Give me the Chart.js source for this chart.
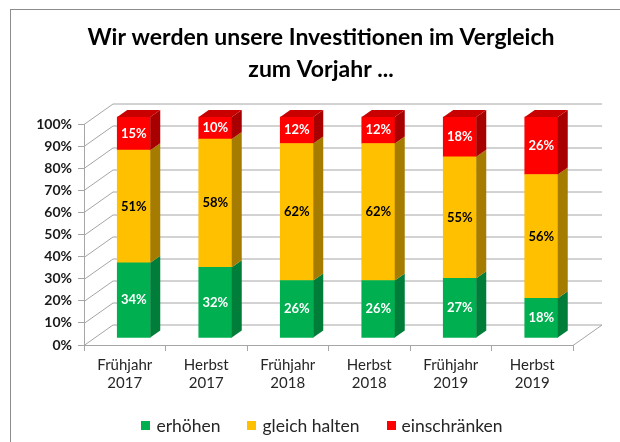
<!DOCTYPE html>
<html>
<head>
<meta charset="utf-8">
<script src="https://cdn.jsdelivr.net/npm/chart.js@4"></script>
<style>
  body { margin: 0; background: #fff; }
  canvas { display: block; }
</style>
</head>
<body>
<canvas id="invChart" width="620" height="442"></canvas>
<script>
const labels = [
    ['Frühjahr', '2017'], ['Herbst', '2017'],
    ['Frühjahr', '2018'], ['Herbst', '2018'],
    ['Frühjahr', '2019'], ['Herbst', '2019']
];
const erhoehen = [34, 32, 26, 26, 27, 18];
const gleichHalten = [51, 58, 62, 62, 55, 56];
const einschraenken = [15, 10, 12, 12, 18, 26];
const yTicks = [0, 10, 20, 30, 40, 50, 60, 70, 80, 90, 100];

const FONT = 'Lato, "Open Sans", sans-serif';
const GRID = '#a6a6a6';
const WALL = { dx: 29, dy: -20.5 };   // depth of the back wall
const BAR = { dx: 9, dy: -7 };        // bars sit a third of the way in
const SIDE = { dx: 10, dy: -7 };      // depth of each bar

// colours: front, side, top, label
const look = [
    { front: '#00b050', side: '#007d38', top: '#009a46', text: '#ffffff' },
    { front: '#ffc000', side: '#a67c00', top: '#d9a300', text: '#000000' },
    { front: '#ff0000', side: '#a80000', top: '#c80000', text: '#ffffff' }
];

const fake3d = {
    id: 'fake3d',
    beforeDraw(chart) {
        const ctx = chart.ctx;
        ctx.save();
        ctx.fillStyle = '#fff';
        ctx.fillRect(0, 0, chart.width, chart.height);
        ctx.strokeStyle = '#8c8c8c';
        ctx.lineWidth = 1;
        ctx.strokeRect(10.5, 9.5, 700, 600);
        ctx.restore();
    },
    beforeDatasetsDraw(chart) {
        const ctx = chart.ctx;
        const a = chart.chartArea;
        const y = chart.scales.y;
        ctx.save();
        ctx.strokeStyle = GRID;
        ctx.lineWidth = 1;
        ctx.beginPath();
        yTicks.forEach(v => {
            const py = Math.round(y.getPixelForValue(v)) + 0.5;
            ctx.moveTo(a.left, py);
            ctx.lineTo(a.left + WALL.dx, py + WALL.dy);
            ctx.lineTo(a.right + WALL.dx, py + WALL.dy);
        });
        // right edge of the floor
        const py0 = Math.round(y.getPixelForValue(0)) + 0.5;
        ctx.moveTo(a.right, py0);
        ctx.lineTo(a.right + WALL.dx, py0 + WALL.dy);
        ctx.stroke();
        ctx.restore();

        ctx.save();
        ctx.translate(BAR.dx, BAR.dy);
    },
    afterDatasetsDraw(chart) {
        const ctx = chart.ctx;
        const n = chart.data.datasets.length;
        chart.data.datasets.forEach((ds, di) => {
            const meta = chart.getDatasetMeta(di);
            meta.data.forEach((bar, i) => {
                const p = bar.getProps(['x', 'y', 'base', 'width'], true);
                const l = p.x - p.width / 2, r = p.x + p.width / 2;
                const t = Math.min(p.y, p.base), b = Math.max(p.y, p.base);
                ctx.fillStyle = look[di].side;
                ctx.beginPath();
                ctx.moveTo(r, t);
                ctx.lineTo(r + SIDE.dx, t + SIDE.dy);
                ctx.lineTo(r + SIDE.dx, b + SIDE.dy);
                ctx.lineTo(r, b);
                ctx.closePath();
                ctx.fill();
                if (di === n - 1) {
                    ctx.fillStyle = look[di].top;
                    ctx.beginPath();
                    ctx.moveTo(l, t);
                    ctx.lineTo(r, t);
                    ctx.lineTo(r + SIDE.dx, t + SIDE.dy);
                    ctx.lineTo(l + SIDE.dx, t + SIDE.dy);
                    ctx.closePath();
                    ctx.fill();
                }
                // value label in the middle of the front face
                ctx.fillStyle = look[di].text;
                ctx.font = 'bold 13px ' + FONT;
                ctx.textAlign = 'center';
                ctx.textBaseline = 'middle';
                ctx.fillText(ds.data[i] + '%', p.x, (t + b) / 2);
            });
        });
        ctx.restore();
    },
    afterDraw(chart) {
        // legend under the axis labels
        const ctx = chart.ctx;
        ctx.save();
        ctx.font = '17.5px ' + FONT;
        const box = 9, gap = 6, space = 27;
        const items = chart.data.datasets.map(ds => ({
            text: ds.label, color: ds.backgroundColor,
            w: box + gap + ctx.measureText(ds.label).width
        }));
        const total = items.reduce((s, it) => s + it.w, 0) + space * (items.length - 1);
        let x = 322 - total / 2;
        const cy = 425;
        items.forEach(it => {
            ctx.fillStyle = it.color;
            ctx.fillRect(Math.round(x), cy - 4, box, box);
            ctx.fillStyle = '#262626';
            ctx.textAlign = 'left';
            ctx.textBaseline = 'middle';
            ctx.fillText(it.text, x + box + gap, cy + 1);
            x += it.w + space;
        });
        ctx.restore();
    }
};

new Chart(document.getElementById('invChart').getContext('2d'), {
    type: 'bar',
    data: {
        labels: labels,
        datasets: [
            { label: 'erhöhen', data: erhoehen, backgroundColor: look[0].front },
            { label: 'gleich halten', data: gleichHalten, backgroundColor: look[1].front },
            { label: 'einschränken', data: einschraenken, backgroundColor: look[2].front }
        ]
    },
    options: {
        responsive: false,
        animation: false,
        devicePixelRatio: 1,
        layout: { padding: { left: 22, right: 0, top: 0, bottom: 0 } },
        datasets: { bar: { barThickness: 33, borderWidth: 0, clip: false } },
        plugins: {
            legend: { display: false },
            tooltip: { enabled: false },
            title: {
                display: true,
                text: ['Wir werden unsere Investitionen im Vergleich', 'zum Vorjahr ...'],
                color: '#000',
                font: { family: FONT, size: 23, weight: 'bold', lineHeight: 32 / 23 },
                padding: { top: 22, bottom: 38 }
            }
        },
        scales: {
            x: {
                stacked: true,
                grid: { drawOnChartArea: false, drawTicks: true, tickLength: 6, color: GRID, offset: true },
                border: { color: GRID },
                ticks: { color: '#262626', font: { family: FONT, size: 15 }, padding: 5, maxRotation: 0, autoSkip: false },
                afterFit(s) { s.height = 97; }
            },
            y: {
                stacked: true,
                min: 0,
                max: 100,
                grid: { drawOnChartArea: false, drawTicks: true, tickLength: 6, color: GRID },
                border: { color: GRID },
                ticks: {
                    stepSize: 10,
                    color: '#1a1a1a',
                    font: { family: FONT, size: 14, weight: 'bold' },
                    padding: 6,
                    callback: v => v + '%'
                },
                afterFit(s) { s.width = 62; }
            },
            // empty axis that only reserves the space right of the floor
            spacer: {
                type: 'linear',
                position: 'right',
                grid: { display: false },
                border: { display: false },
                ticks: { display: false },
                afterFit(s) { s.width = 47; }
            }
        }
    },
    plugins: [fake3d]
});
</script>
</body>
</html>
